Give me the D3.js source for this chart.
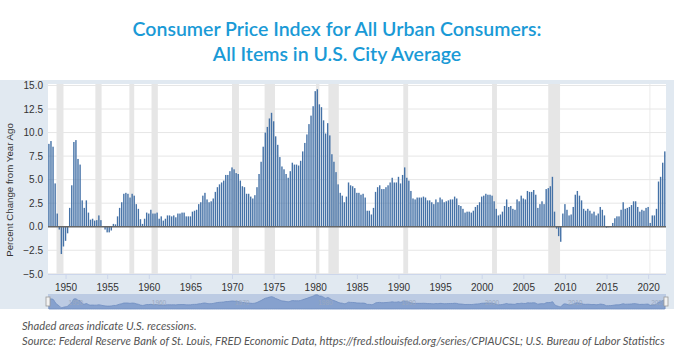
<!DOCTYPE html>
<html><head><meta charset="utf-8">
<script src="https://cdn.jsdelivr.net/npm/d3@7"></script>
<style>html,body{margin:0;padding:0;background:#fff}svg{display:block}</style>
</head><body>
<svg id="chart" width="674" height="364"></svg>
<script>
// ---------- data ----------
const titleLines = ["Consumer Price Index for All Urban Consumers:", "All Items in U.S. City Average"];
const yAxisTitle = "Percent Change from Year Ago";
const yTicks = [-5, -2.5, 0, 2.5, 5, 7.5, 10, 12.5, 15];
const xTickYears = [1950, 1955, 1960, 1965, 1970, 1975, 1980, 1985, 1990, 1995, 2000, 2005, 2010, 2015, 2020];
const navigatorYears = [1950, 1960, 1970, 1980, 1990, 2000, 2010, 2020];
const firstQuarter = "1948-01-01";
// quarterly percent change from year ago, 1948Q1 .. 2022Q1
const cpiYoY = [
  8.8, 9.1, 8.5, 4.6,     // 1948
  1.4, -0.3, -2.9, -2.1,  // 1949
  -1.5, -0.7, 2.0, 4.4,   // 1950
  9.0, 9.2, 7.2, 6.6,     // 1951
  2.8, 2.0, 2.8, 1.5,     // 1952
  0.75, 0.85, 0.65, 0.7,  // 1953
  1.2, 0.7, 0.05, -0.3,   // 1954
  -0.6, -0.6, -0.4, 0.3,  // 1955
  0.25, 1.1, 2.0, 2.6,    // 1956
  3.5, 3.6, 3.5, 3.1,     // 1957
  3.5, 3.3, 2.4, 1.9,     // 1958
  0.8, 0.3, 0.85, 1.5,    // 1959
  1.4, 1.8, 1.4, 1.4,     // 1960
  1.5, 0.85, 1.1, 0.65,   // 1961
  0.85, 1.2, 1.2, 1.1,    // 1962
  1.2, 1.0, 1.4, 1.4,     // 1963
  1.5, 1.5, 1.1, 1.1,     // 1964
  1.1, 1.6, 1.7, 1.8,     // 1965
  2.4, 2.6, 3.3, 3.6,     // 1966
  2.9, 2.6, 2.7, 3.0,     // 1967
  3.7, 4.2, 4.5, 4.7,     // 1968
  4.9, 5.5, 5.5, 5.9,     // 1969
  6.3, 6.1, 5.7, 5.6,     // 1970
  4.9, 4.3, 4.2, 3.5,     // 1971
  3.5, 3.2, 3.0, 3.35,    // 1972
  4.2, 5.6, 6.9, 8.5,     // 1973
  10.0, 10.6, 11.5, 12.1, // 1974
  11.2, 9.6, 8.7, 7.4,    // 1975
  6.4, 6.1, 5.6, 5.2,     // 1976
  5.9, 6.8, 6.6, 6.6,     // 1977
  6.5, 7.0, 8.0, 8.9,     // 1978
  9.8, 10.9, 11.8, 12.8,  // 1979
  14.4, 14.6, 13.0, 12.7, // 1980
  11.3, 9.9, 11.0, 9.7,   // 1981
  7.7, 6.9, 5.8, 4.5,     // 1982
  3.6, 3.3, 2.6, 3.2,     // 1983
  4.7, 4.4, 4.3, 4.1,     // 1984
  3.6, 3.6, 3.4, 3.5,     // 1985
  3.1, 1.7, 1.7, 1.3,     // 1986
  2.0, 3.7, 4.2, 4.4,     // 1987
  4.0, 4.0, 4.2, 4.4,     // 1988
  4.7, 5.2, 4.7, 4.7,     // 1989
  5.3, 4.6, 5.5, 6.3,     // 1990
  5.2, 4.9, 3.8, 3.0,     // 1991
  2.9, 3.1, 3.1, 3.1,     // 1992
  3.2, 3.1, 2.8, 2.8,     // 1993
  2.6, 2.4, 2.9, 2.6,     // 1994
  3.1, 2.9, 2.6, 2.7,     // 1995
  2.8, 2.9, 2.9, 3.2,     // 1996
  3.0, 2.3, 2.2, 1.9,     // 1997
  1.5, 1.6, 1.6, 1.5,     // 1998
  1.7, 2.1, 2.3, 2.6,     // 1999
  3.2, 3.3, 3.5, 3.4,     // 2000
  3.4, 3.3, 2.7, 1.9,     // 2001
  1.2, 1.3, 1.6, 2.2,     // 2002
  2.9, 2.1, 2.2, 1.9,     // 2003
  1.8, 2.9, 2.7, 3.3,     // 2004
  3.0, 2.9, 3.8, 3.7,     // 2005
  3.7, 3.9, 3.4, 2.0,     // 2006
  2.4, 2.7, 2.4, 4.0,     // 2007
  4.1, 4.3, 5.3, 1.6,     // 2008
  -0.2, -1.0, -1.6, 1.4,  // 2009
  2.4, 1.8, 1.2, 1.3,     // 2010
  2.1, 3.4, 3.8, 3.3,     // 2011
  2.8, 1.9, 1.7, 1.9,     // 2012
  1.7, 1.4, 1.6, 1.2,     // 2013
  1.4, 2.1, 1.8, 1.2,     // 2014
  -0.1, -0.05, 0.05, 0.4, // 2015
  0.9, 1.1, 1.1, 1.8,     // 2016
  2.6, 1.9, 2.0, 2.1,     // 2017
  2.3, 2.7, 2.7, 2.1,     // 2018
  1.6, 1.8, 1.7, 2.0,     // 2019
  2.1, 0.4, 1.2, 1.2,     // 2020
  1.9, 4.8, 5.3, 6.8,     // 2021
  8.0                     // 2022
];
const recessions = [
  ["1948-12-01", "1949-10-01"], ["1953-08-01", "1954-05-01"], ["1957-09-01", "1958-04-01"],
  ["1960-05-01", "1961-02-01"], ["1970-01-01", "1970-11-01"], ["1973-12-01", "1975-03-01"],
  ["1980-02-01", "1980-07-01"], ["1981-08-01", "1982-11-01"], ["1990-08-01", "1991-03-01"],
  ["2001-04-01", "2001-11-01"], ["2008-01-01", "2009-06-01"], ["2020-03-01", "2020-04-01"]
];
const notes = [
  "Shaded areas indicate U.S. recessions.",
  "Source: Federal Reserve Bank of St. Louis, FRED Economic Data, https://fred.stlouisfed.org/series/CPIAUCSL; U.S. Bureau of Labor Statistics"
];

// ---------- layout ----------
const parse = d3.utcParse("%Y-%m-%d");
const start = parse(firstQuarter);
const series = cpiYoY.map((v, i) => ({ date: d3.utcMonth.offset(start, 3 * i), value: v }));

const plot = { left: 48, right: 666, top: 84, bottom: 274 };
const x = d3.scaleUtc().domain([parse("1948-01-01"), parse("2022-01-01")]).range([48.9, 664.8]);
const y = d3.scaleLinear().domain([-5, 15]).range([273.8, 85.5]);

const svg = d3.select("#chart");

// panel background
svg.append("rect").attr("x", 0).attr("y", 80).attr("width", 674).attr("height", 229).attr("fill", "#e1e9f1");
svg.append("rect").attr("x", plot.left).attr("y", plot.top).attr("width", plot.right - plot.left)
  .attr("height", plot.bottom - plot.top).attr("fill", "#ffffff");

svg.append("defs").append("clipPath").attr("id", "clip").append("rect")
  .attr("x", plot.left).attr("y", plot.top).attr("width", plot.right - plot.left).attr("height", plot.bottom - plot.top);

const g = svg.append("g").attr("clip-path", "url(#clip)");

// recessions
g.selectAll("rect.rec").data(recessions).join("rect").attr("class", "rec")
  .attr("x", d => x(parse(d[0]))).attr("width", d => Math.max(0.8, x(parse(d[1])) - x(parse(d[0]))))
  .attr("y", plot.top).attr("height", plot.bottom - plot.top).attr("fill", "#e6e6e6");

// gridlines
g.selectAll("line.grid").data(yTicks).join("line").attr("class", "grid")
  .attr("x1", plot.left).attr("x2", plot.right).attr("y1", d => y(d)).attr("y2", d => y(d))
  .attr("stroke", "#e6e6e6").attr("stroke-width", 1);

// bars
const bw = 1.4;
g.selectAll("rect.bar").data(series).join("rect").attr("class", "bar")
  .attr("x", d => x(d.date) - bw / 2).attr("width", bw)
  .attr("y", d => Math.min(y(d.value), y(0))).attr("height", d => Math.abs(y(d.value) - y(0)))
  .attr("fill", "#4572a7");

// zero line
g.append("line").attr("x1", plot.left).attr("x2", plot.right).attr("y1", y(0)).attr("y2", y(0))
  .attr("stroke", "#666").attr("stroke-width", 1.3);

// y labels
const yAxis = d3.axisLeft(y).tickValues(yTicks).tickFormat(d3.format(".1f")).tickSize(0).tickPadding(5);
const ya = svg.append("g").attr("transform", `translate(${plot.left},0)`).call(yAxis);
ya.select(".domain").remove();
ya.selectAll("text").attr("font-family", "'Liberation Sans', Arial, sans-serif").attr("font-size", 10).attr("fill", "#333");

svg.append("text").attr("transform", `translate(13,190) rotate(-90)`)
  .attr("text-anchor", "middle").attr("font-family", "'Liberation Sans', Arial, sans-serif")
  .attr("font-size", 9.7).attr("fill", "#333").text(yAxisTitle);

// x axis
const xAxis = d3.axisBottom(x).tickValues(xTickYears.map(yr => parse(yr + "-01-01")))
  .tickFormat(d3.utcFormat("%Y")).tickSize(5).tickPadding(5);
const xa = svg.append("g").attr("transform", `translate(0,${plot.bottom})`).call(xAxis);
xa.select(".domain").attr("d", `M${plot.left},0.5H${plot.right}`).attr("stroke", "#ccd6eb");
xa.selectAll(".tick line").attr("stroke", "#ccd6eb");
xa.selectAll("text").attr("font-family", "'Liberation Sans', Arial, sans-serif").attr("font-size", 10).attr("fill", "#333");

// navigator
const nav = { top: 294, bottom: 309 };
svg.append("rect").attr("x", plot.left).attr("y", nav.top).attr("width", plot.right - plot.left)
  .attr("height", nav.bottom - nav.top).attr("fill", "#bccbe3");
const ny = d3.scaleLinear().domain([-4.5, 15]).range([nav.bottom, nav.top + 0.5]);
const area = d3.area().x(d => x(d.date)).y0(nav.bottom).y1(d => ny(d.value)).curve(d3.curveMonotoneX);
svg.append("path").datum(series).attr("d", area).attr("fill", "#86a1ce").attr("stroke", "#6f8dc0").attr("stroke-width", 0.8);
svg.selectAll("text.navlab").data(navigatorYears).join("text").attr("class", "navlab")
  .attr("x", d => x(parse(d + "-01-01")) + 3).attr("y", 305)
  .attr("font-family", "'Liberation Sans', Arial, sans-serif").attr("font-size", 6.5)
  .attr("fill", "#9aa8bf").text(d => d);
[plot.left, plot.right].forEach(hx => {
  svg.append("rect").attr("x", hx - 2).attr("y", 297).attr("width", 4).attr("height", 9)
    .attr("fill", "#f2f2f2").attr("stroke", "#999").attr("stroke-width", 0.8);
});

// title
svg.selectAll("text.title").data(titleLines).join("text").attr("class", "title")
  .attr("x", 337).attr("y", (d, i) => 36 + i * 25).attr("text-anchor", "middle")
  .attr("font-family", "Lato, sans-serif").attr("font-weight", 600).attr("font-size", 19.5)
  .attr("fill", "#1a9ad6").text(d => d);

// notes
svg.selectAll("text.note").data(notes).join("text").attr("class", "note")
  .attr("x", 22).attr("y", (d, i) => 330 + i * 14.5)
  .attr("font-family", "Lato, sans-serif").attr("font-style", "italic").attr("font-size", 11.2)
  .attr("fill", "#555").text(d => d);
</script>
</body></html>
